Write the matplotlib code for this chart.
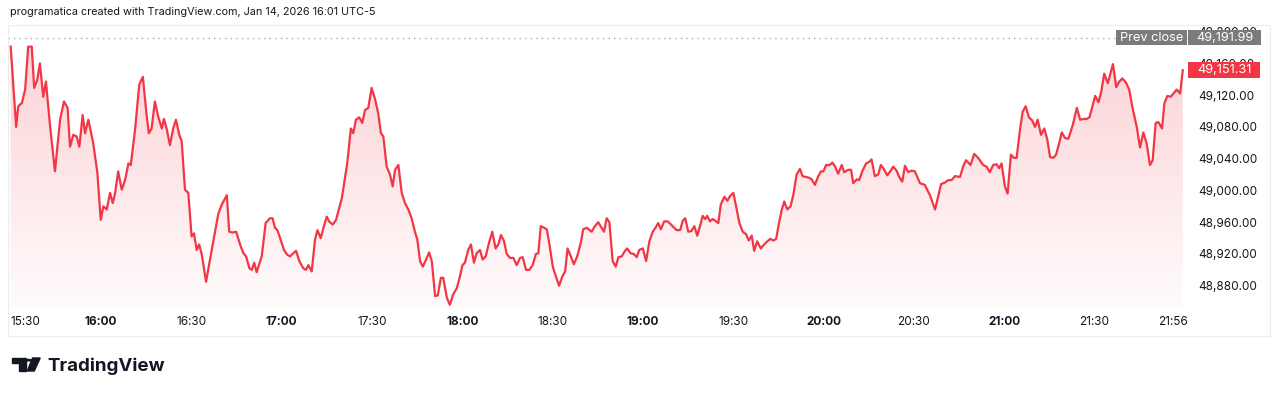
import numpy as np
import matplotlib as mpl
mpl.use('Agg')
import matplotlib.pyplot as plt
from matplotlib.patches import Rectangle, Polygon, Circle

mpl.rcParams['font.family'] = ['Inter', 'DejaVu Sans']

# minutes after 15:30 and index level
minutes = [0, 1.8, 2.5, 3.7, 4.8, 5.8, 7.0, 7.8, 8.8, 9.7,
           10.8, 11.7, 13.1, 14.7, 16.4, 17.7, 18.9, 19.7, 20.8, 21.9,
           22.8, 23.9, 24.7, 25.8, 27.4, 28.8, 29.9, 30.8, 31.9, 33.0,
           33.9, 34.7, 35.7, 36.9, 38.0, 39.1, 39.9, 41.3, 42.7, 43.9,
           45.2, 45.9, 46.8, 47.9, 49.0, 50.2, 50.9, 51.8, 52.9, 54.0,
           54.9, 56.0, 56.8, 57.9, 59.0, 60.1, 60.9, 61.8, 62.6, 63.5,
           64.9, 66.2, 67.3, 69.0, 70.1, 71.8, 72.6, 73.8, 74.9, 76.2,
           77.3, 78.2, 79.3, 80.1, 80.9, 81.7, 83.4, 84.7, 86.1, 87.0,
           87.8, 88.6, 89.5, 90.8, 91.9, 92.8, 93.9, 94.8, 95.9,
           97.2, 98.1, 98.9, 100.0, 101.1, 101.9, 103.0, 103.9, 105.0, 105.8,
           107.0, 108.1, 108.8, 110.0, 111.1, 111.8, 113.0, 113.8, 114.7, 115.8,
           116.8, 117.7, 118.8, 119.9, 121.0, 122.1, 123.0, 123.8, 124.9, 126.0,
           126.9, 127.7, 128.8, 129.9, 131.0, 132.1, 133.2, 134.3, 135.1, 136.0,
           136.9, 138.0, 139.0, 139.9, 141.0, 141.9, 142.9, 143.7, 144.9, 145.9,
           147.0, 148.2, 149.0, 150.1, 150.9, 152.0, 152.9, 153.9, 154.8, 155.9,
           156.8, 157.8, 158.9, 160.0, 161.1, 162.0, 162.9, 163.9, 164.8, 165.9,
           167.0, 168.1, 169.2, 170.1, 171.2, 172.3, 173.4, 174.5, 175.3, 176.1,
           177.2, 178.1, 178.9, 180.1, 181.1, 182.2, 183.3, 184.2, 185.0, 186.1,
           187.1, 188.2, 189.4, 190.2, 191.4, 193.0, 194.1, 195.2,
           197.1, 198.0, 198.9, 200.0, 201.0, 201.9, 203.0, 204.1, 204.8, 205.9,
           207.0, 208.0, 208.8, 210.0, 211.1, 212.2, 213.3, 214.4, 215.1, 216.0,
           217.1, 218.3, 219.4, 220.4, 221.3, 222.4, 223.3, 224.1, 225.1, 226.2,
           227.1, 228.1, 229.0, 229.9, 230.7, 231.4, 232.3, 233.2, 234.0, 235.1,
           235.9, 237.1, 238.1, 239.0, 240.1, 241.2, 242.1, 243.2, 244.3, 245.2,
           246.2, 247.0, 248.0, 249.2, 250.3, 251.4, 252.3, 253.4, 254.3, 255.3,
           256.2, 257.0, 258.0, 259.1, 260.0, 261.1, 262.2, 263.1, 264.2, 265.2,
           266.1, 267.2, 268.3, 269.2, 270.0, 270.9, 272.0, 273.0, 273.9, 274.9,
           276.1, 276.9, 278.3, 279.2, 279.9, 281.1, 281.9, 282.9, 284.2, 285.2,
           286.0, 287.1, 288.2, 289.1, 290.1, 291.2, 292.4, 293.2, 294.3, 295.2,
           296.2, 297.1, 298.2, 299.3, 300.4, 302.1, 303.7, 305.4, 307.1, 309.1,
           310.4, 311.5, 312.6, 313.7, 315.4, 316.5, 317.4, 318.9, 320.1, 321.4,
           323.1, 324.2, 325.3, 326.4, 327.5, 328.4, 329.2, 330.3, 331.2, 332.3,
           333.3, 334.2, 335.3, 336.2, 337.2, 338.3, 339.4, 340.3, 341.2, 342.3,
           343.4, 344.4, 345.3, 346.4, 347.3, 348.3, 349.2, 350.3, 351.4, 352.9,
           354.2, 355.3, 356.4, 357.5, 358.4, 359.4, 360.3, 361.4, 362.3, 363.3,
           364.5, 366.2, 367.3, 368.3, 369.3, 370.5, 371.6, 372.6, 374.1, 375.2,
           376.3, 377.4, 378.5, 379.4, 380.4, 381.3, 382.5, 383.3, 384.3, 385.4,
           386.5, 387.4, 388.5, 389.4]

prices = [49181, 49080, 49106, 49110, 49127, 49181, 49181, 49129, 49139, 49160,
          49118, 49137, 49080, 49024, 49089, 49112, 49104, 49055, 49070, 49068,
          49055, 49095, 49072, 49089, 49060, 49022, 48963, 48980, 48976, 48997,
          48984, 48997, 49024, 49001, 49013, 49034, 49032, 49076, 49133, 49143,
          49093, 49072, 49078, 49112, 49093, 49078, 49090, 49078, 49057, 49078,
          49089, 49070, 49062, 49001, 48997, 48942, 48946, 48925, 48932, 48919,
          48885, 48913, 48936, 48971, 48982, 48994, 48948, 48947, 48948, 48932,
          48921, 48917, 48902, 48900, 48909, 48897, 48917, 48959, 48965, 48965,
          48953, 48950, 48940, 48925, 48919, 48917, 48921, 48924, 48911,
          48902, 48900, 48906, 48898, 48938, 48950, 48940, 48953, 48967, 48961,
          48957, 48963, 48973, 48990, 49017, 49034, 49078, 49072, 49089, 49092,
          49085, 49101, 49104, 49129, 49116, 49097, 49072, 49068, 49030, 49020,
          49005, 49026, 49032, 48997, 48984, 48976, 48965, 48948, 48938, 48911,
          48904, 48913, 48922, 48911, 48867, 48868, 48890, 48890, 48865, 48856,
          48869, 48877, 48888, 48906, 48909, 48925, 48932, 48909, 48921, 48925,
          48913, 48917, 48934, 48948, 48927, 48932, 48944, 48936, 48920, 48915,
          48915, 48906, 48915, 48916, 48900, 48900, 48906, 48920, 48921, 48955,
          48953, 48951, 48934, 48904, 48892, 48880, 48892, 48898, 48927, 48917,
          48907, 48917, 48934, 48951, 48953, 48948, 48955, 48960,
          48948, 48965, 48960, 48911, 48904, 48916, 48917, 48924, 48927, 48921,
          48920, 48916, 48925, 48927, 48911, 48936, 48948, 48954, 48959, 48951,
          48961, 48961, 48957, 48953, 48950, 48950, 48962, 48965, 48948, 48949,
          48955, 48943, 48955, 48968, 48964, 48968, 48961, 48964, 48962, 48959,
          48982, 48992, 48987, 48993, 48997, 48976, 48959, 48948, 48945, 48937,
          48943, 48924, 48936, 48927, 48932, 48936, 48939, 48937, 48939, 48960,
          48976, 48986, 48976, 48980, 48994, 49020, 49027, 49018, 49017, 49016,
          49014, 49007, 49018, 49024, 49024, 49032, 49032, 49035, 49030, 49021,
          49032, 49023, 49026, 49026, 49009, 49014, 49013, 49024, 49034, 49036,
          49039, 49018, 49020, 49032, 49027, 49019, 49025, 49030, 49025, 49017,
          49011, 49031, 49023, 49025, 49024, 49009, 49007, 48994, 48976, 49008,
          49010, 49013, 49013, 49018, 49017, 49031, 49038, 49032, 49046, 49041,
          49032, 49030, 49023, 49032, 49033, 49028, 49034, 49005, 48996, 49045,
          49041, 49041, 49076, 49099, 49106, 49092, 49088, 49080, 49089, 49070,
          49078, 49064, 49042, 49041, 49045, 49059, 49073, 49066, 49065, 49083,
          49104, 49089, 49090, 49090, 49092, 49106, 49119, 49111, 49124, 49147,
          49135, 49159, 49130, 49137, 49141, 49136, 49127, 49106, 49080, 49054,
          49073, 49059, 49032, 49038, 49085, 49086, 49078, 49110, 49119, 49118,
          49123, 49127, 49122, 49151.31]

prev_close = 49191.99
last_price = prices[-1]

price_ticks = [48880, 48920, 48960, 49000, 49040, 49080, 49120, 49160, 49200]
time_ticks = [0, 30, 60, 90, 120, 150, 180, 210, 240, 270, 300, 330, 360, 386]
time_labels = ['15:30', '16:00', '16:30', '17:00', '17:30', '18:00', '18:30',
               '19:00', '19:30', '20:00', '20:30', '21:00', '21:30', '21:56']

header = 'programatica created with TradingView.com, Jan 14, 2026 16:01 UTC-5'

RED = '#F23645'
TXT = '#131722'

W, H = 1280, 394
fig = plt.figure(figsize=(W / 100, H / 100), dpi=100)


def fx(px):
    return px / W


def fy(py):
    return 1 - py / H


ax = fig.add_axes((fx(8), fy(308), fx(1190) - fx(8), fy(26) - fy(308)))
xmin, xmax = -0.9, 391.8
ymin, ymax = 48852, 49207
ax.set_xlim(xmin, xmax)
ax.set_ylim(ymin, ymax)

# gradient area under the line
grad = np.zeros((256, 1, 4))
grad[:, 0, :3] = mpl.colors.to_rgb(RED)
grad[:, 0, 3] = np.linspace(0.24, 0.02, 256)
im = ax.imshow(grad, extent=[xmin, xmax, ymin, ymax], aspect='auto',
               origin='upper', zorder=1)
verts = [(minutes[0], ymin)] + list(zip(minutes, prices)) + [(minutes[-1], ymin)]
clip = Polygon(verts, closed=True, facecolor='none', edgecolor='none')
ax.add_patch(clip)
im.set_clip_path(clip)

ax.plot(minutes, prices, color=RED, lw=1.6, solid_joinstyle='round', zorder=3)
ax.axhline(prev_close, color='#a8abb3', lw=1, linestyle=(0, (1, 3)), zorder=2)

for s in ax.spines.values():
    s.set_visible(False)
ax.set_facecolor('none')

ax.yaxis.tick_right()
ax.set_yticks(price_ticks)
ax.set_yticklabels(['{:,.2f}'.format(v) for v in price_ticks])
ax.tick_params(axis='y', length=0, pad=6, labelsize=8.5, labelcolor=TXT)

ax.set_xticks(time_ticks)
ax.set_xticklabels(time_labels)
ax.tick_params(axis='x', length=0, pad=6, labelsize=8.5, labelcolor=TXT)
for i, lab in enumerate(ax.get_xticklabels()):
    if time_labels[i].endswith(':00'):
        lab.set_fontweight('bold')
ax.get_xticklabels()[0].set_horizontalalignment('left')

# pane border
fig.add_artist(Rectangle((fx(8), fy(336)), fx(1270) - fx(8), fy(25) - fy(336),
                         transform=fig.transFigure, fill=False,
                         edgecolor='#ececec', lw=0.8))


def yfig(v):
    return fig.transFigure.inverted().transform(ax.transData.transform((0, v)))[1]


def price_box(x0, x1, v, h, color, text):
    yc = yfig(v)
    fig.add_artist(Rectangle((fx(x0), yc - h / 2 / H), fx(x1) - fx(x0), h / H,
                             transform=fig.transFigure, facecolor=color,
                             edgecolor='none', zorder=5))
    fig.text(fx((x0 + x1) / 2), yc, text, ha='center', va='center',
             color='white', fontsize=9.2, zorder=6)


price_box(1116, 1187, prev_close, 15, '#7b7b7b', 'Prev close')
price_box(1188, 1261, prev_close, 15, '#7b7b7b', '{:,.2f}'.format(prev_close))
price_box(1188, 1260, last_price, 16, RED, '{:,.2f}'.format(last_price))

fig.text(fx(10), fy(12), header, fontsize=7.8, color=TXT, va='center')

# TradingView logo
logo = '#131722'
fig.add_artist(Polygon([(fx(12), fy(358)), (fx(25.7), fy(358)), (fx(25.7), fy(371)),
                        (fx(18.5), fy(371)), (fx(18.5), fy(362.5)), (fx(12), fy(362.5))],
                       closed=True, transform=fig.transFigure, color=logo))
fig.add_artist(Circle((fx(28.6), fy(360.2)), 2.3 / W, transform=fig.transFigure,
                      color=logo))
fig.add_artist(Polygon([(fx(32.5), fy(358)), (fx(40.2), fy(358)), (fx(34.3), fy(371)),
                        (fx(27.3), fy(371))],
                       closed=True, transform=fig.transFigure, color=logo))
fig.text(fx(47), fy(371), 'TradingView', fontsize=13.5, fontweight='bold',
         color=logo, va='baseline')

fig.savefig('out.png', dpi=100, facecolor='white')
